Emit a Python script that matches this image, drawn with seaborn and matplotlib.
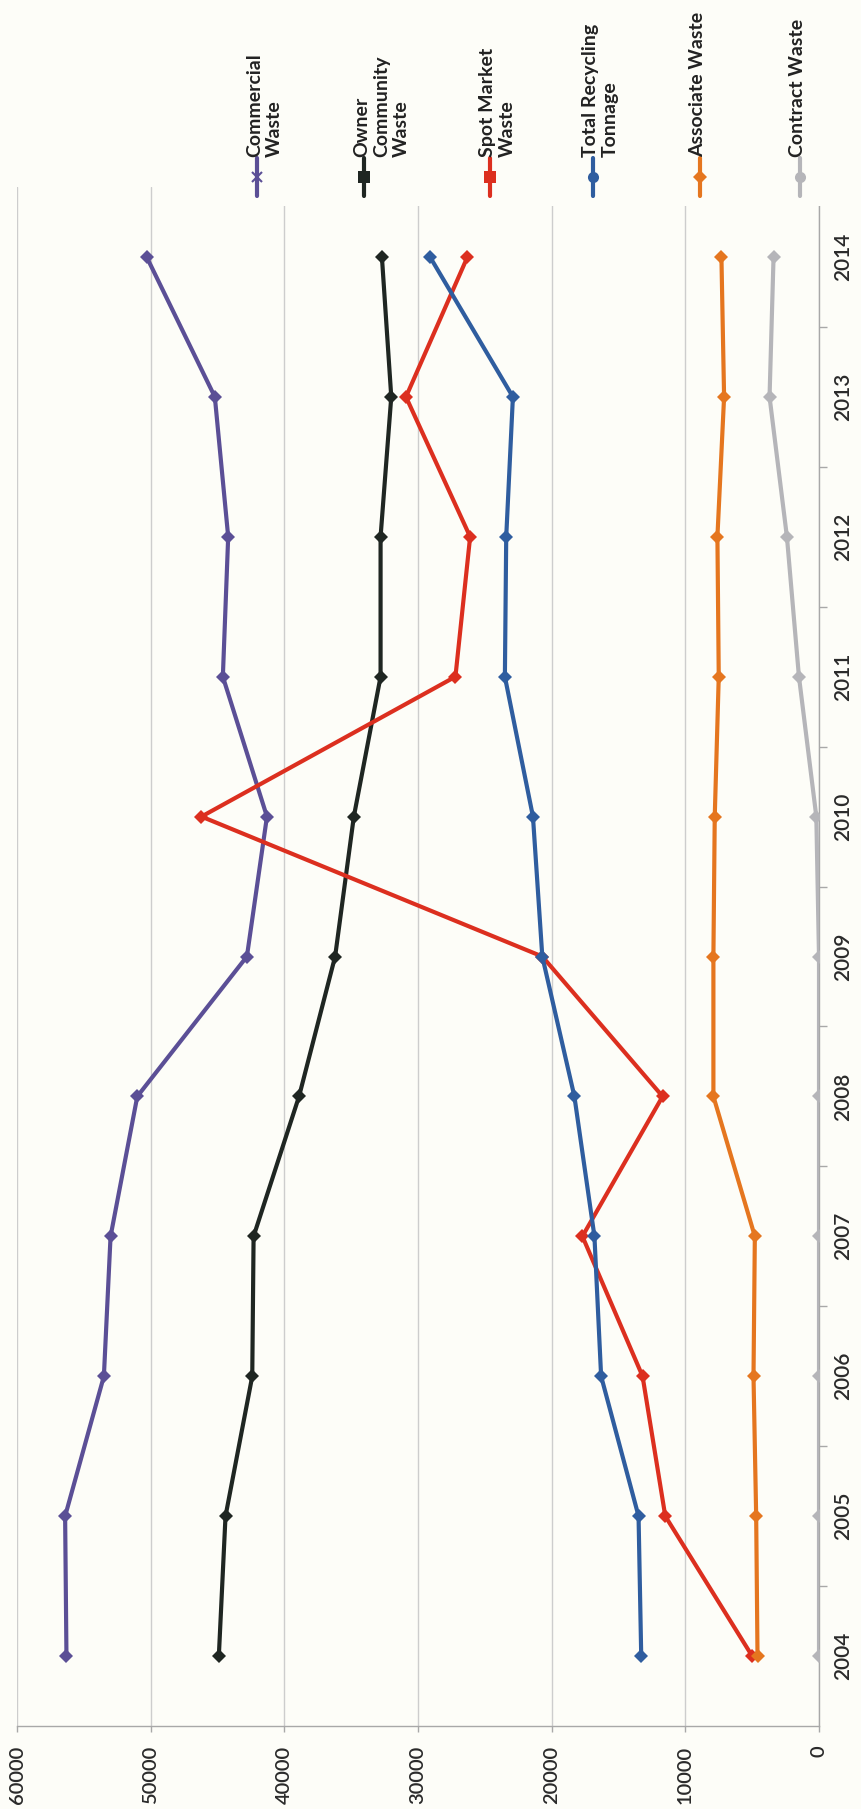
import numpy as np
import pandas as pd
import matplotlib
matplotlib.use("Agg")
import matplotlib.pyplot as plt
import seaborn as sns
from matplotlib.lines import Line2D
from matplotlib.patches import Rectangle

# ---------------- data ----------------
years = [2004, 2005, 2006, 2007, 2008, 2009, 2010, 2011, 2012, 2013, 2014]
commercial = [56300, 56400, 53500, 53000, 51000, 42800, 41300, 44600, 44200, 45200, 50300]
owner_community = [44900, 44400, 42400, 42300, 38900, 36200, 34800, 32800, 32800, 32000, 32700]
spot_market = [5000, 11500, 13200, 17700, 11700, 20700, 46200, 27200, 26100, 30900, 26300]
total_recycling = [13300, 13500, 16300, 16800, 18300, 20700, 21400, 23500, 23400, 22900, 29100]
associate = [4600, 4700, 4900, 4800, 7900, 7900, 7800, 7500, 7600, 7100, 7300]
contract = [0, 0, 0, 0, 0, 0, 200, 1500, 2400, 3700, 3400]

series_labels = ["Commercial\nWaste", "Owner\nCommunity\nWaste", "Spot Market\nWaste",
                 "Total Recycling\nTonnage", "Associate Waste", "Contract Waste"]
series_values = [commercial, owner_community, spot_market, total_recycling, associate, contract]
colors = ["#5b4f96", "#1f2622", "#dc2f1f", "#2f5d9f", "#e5761f", "#b5b5b9"]
legend_markers = ["x", "s", "s", "o", "D", "o"]
value_ticks = [0, 10000, 20000, 30000, 40000, 50000, 60000]

# ---------------- build table ----------------
rows = []
for lab, vals in zip(series_labels, series_values):
    for y, v in zip(years, vals):
        rows.append({"series": lab, "year": y, "value": v})
df = pd.DataFrame(rows)

sns.set_theme(style="white")
plt.rcParams["font.family"] = ["Lato", "DejaVu Sans"]

W, H = 862, 1809
bg = "#fdfdf8"
fig = plt.figure(figsize=(W / 100, H / 100), dpi=100, facecolor=bg)
ax_left, ax_right, ax_top, ax_bottom = 17, 819, 187, 1726
ax = fig.add_axes([ax_left / W, 1 - ax_bottom / H, (ax_right - ax_left) / W, (ax_bottom - ax_top) / H])
ax.set_facecolor(bg)

sns.lineplot(data=df, x="value", y="year", hue="series", hue_order=series_labels,
             palette=dict(zip(series_labels, colors)), orient="y",
             marker="D", markersize=7.5, markeredgewidth=0, linewidth=3.0,
             legend=False, ax=ax, zorder=3)

ax.set_xlim(60000, 0)
ax.set_ylim(2003.5, 2014.5)
ax.set_xlabel("")
ax.set_ylabel("")

# value axis (bottom)
ax.set_xticks(value_ticks)
ax.set_xticklabels([str(v) for v in value_ticks], rotation=90, fontsize=14.5,
                   color="#2a2a2a", fontweight="semibold")
ax.tick_params(axis="x", length=4.3, width=1, color="#a8a8a8", pad=10, bottom=True)
ax.xaxis.grid(True, color="#cdcdcd", linewidth=1)
ax.yaxis.grid(False)

# year axis (right)
ax.yaxis.tick_right()
ax.set_yticks(years)
ax.set_yticklabels([str(y) for y in years], rotation=90, va="center", fontsize=15,
                   color="#2a2a2a", fontweight="semibold")
ax.set_yticks([y + 0.5 for y in years[:-1]], minor=True)
ax.tick_params(axis="y", which="major", length=0, pad=10, right=True, left=False)
ax.tick_params(axis="y", which="minor", length=5.8, width=1, color="#a8a8a8",
               direction="out", right=True, left=False)

for s in ["top", "left"]:
    ax.spines[s].set_visible(False)
for s in ["right", "bottom"]:
    ax.spines[s].set_color("#a8a8a8")
    ax.spines[s].set_linewidth(1)

# ---------------- legend (rotated, drawn manually) ----------------
fig.add_artist(Rectangle((230 / W, 1 - 206 / H), 1 - 230 / W, 206 / H,
                         transform=fig.transFigure, facecolor=bg, edgecolor="none", zorder=1))
legend_x = [257, 364, 490, 593, 700, 800]
seg_top, seg_bot = 158, 196
for lx, lab, col, mk in zip(legend_x, series_labels, colors, legend_markers):
    xf = lx / W
    fig.add_artist(Line2D([xf, xf], [1 - seg_top / H, 1 - seg_bot / H], transform=fig.transFigure,
                          color=col, linewidth=3.0, zorder=2, solid_capstyle="round"))
    ms = {"x": 7, "s": 8, "o": 8, "D": 7}[mk]
    fig.add_artist(Line2D([xf], [1 - (seg_top + seg_bot) / 2 / H], transform=fig.transFigure,
                          color=col, marker=mk, markersize=ms, markeredgewidth=1.5 if mk == "x" else 0,
                          linestyle="none", zorder=3))
    fig.text((lx - 11) / W, 1 - (seg_top - 1) / H, lab, rotation=90, rotation_mode="anchor",
             ha="left", va="top", fontsize=14, fontweight="bold", color="#222222",
             linespacing=1.2, zorder=4)

fig.savefig("out.png", dpi=100, facecolor=bg)
